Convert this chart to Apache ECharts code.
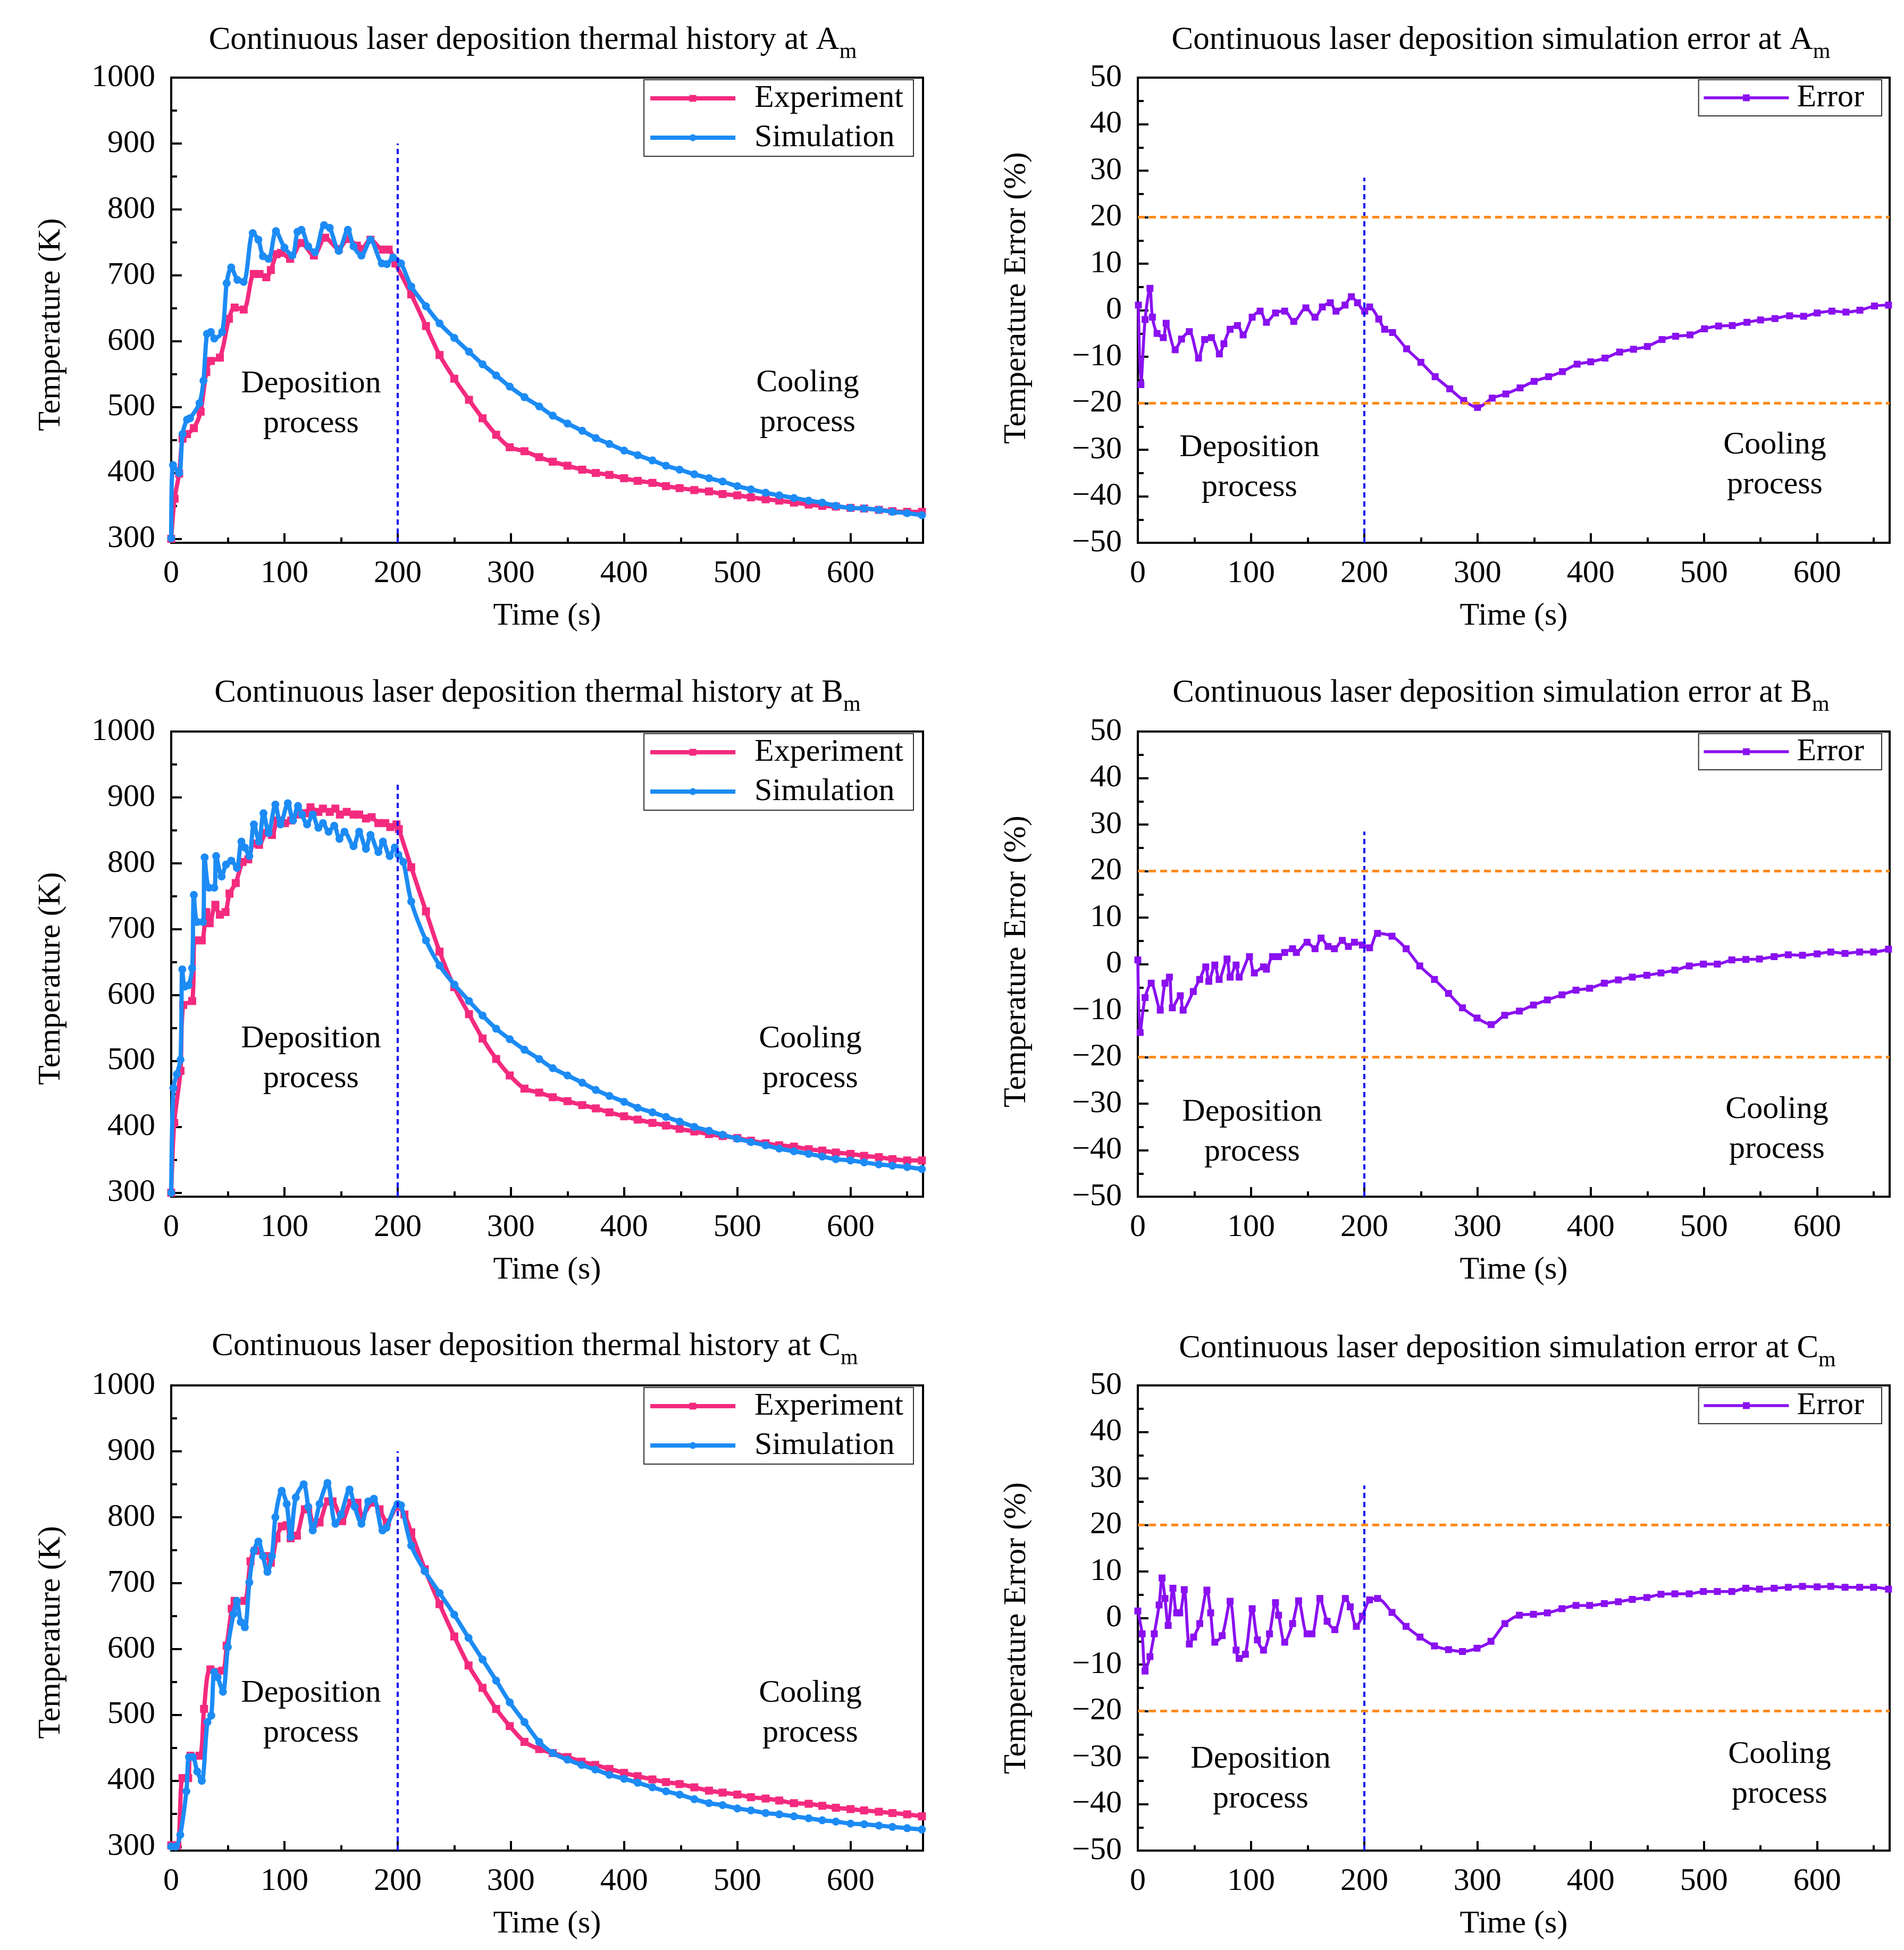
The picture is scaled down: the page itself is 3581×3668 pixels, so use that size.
<!DOCTYPE html>
<html><head><meta charset="utf-8">
<script src="https://cdn.jsdelivr.net/npm/echarts@6/dist/echarts.min.js"></script>
<style>html,body{margin:0;padding:0;background:#fff}#c{width:3581px;height:3668px}</style>
</head><body><div id="c"></div>
<script>
// ---------- tick labels ----------
const timeTicks = [0, 100, 200, 300, 400, 500, 600];
const timeMinorTicks = [50, 150, 250, 350, 450, 550, 650];
const tempTicks = [300, 400, 500, 600, 700, 800, 900, 1000];
const tempMinorTicks = [350, 450, 550, 650, 750, 850, 950];
const errTicks = [-50, -40, -30, -20, -10, 0, 10, 20, 30, 40, 50];
const errMinorTicks = [-45, -35, -25, -15, -5, 5, 15, 25, 35, 45];
const errLimits = [20, -20];
const depositionEnd = 200;

// ---------- titles ----------
const tempTitles = ['Continuous laser deposition thermal history at A', 'Continuous laser deposition thermal history at B', 'Continuous laser deposition thermal history at C'];
const errTitles = ['Continuous laser deposition simulation error at A', 'Continuous laser deposition simulation error at B', 'Continuous laser deposition simulation error at C'];

// ---------- data: [time (s), temperature (K)] ----------
const expA = [[0,300],[3,361],[7,399],[10,452],[14,459],[20,468],[26,493],[31,553],[35,570],[43,575],[51,634],[56,651],[64,648],[73,702],[78,702],[84,697],[88,708],[93,732],[97,734],[105,725],[115,749],[126,730],[136,757],[148,740],[156,755],[164,745],[168,740],[176,754],[187,739],[192,739],[198,718],[212,671],[225,623],[237,579],[250,543],[263,511],[275,483],[287,458],[299,439],[312,433],[325,424],[337,417],[350,411],[363,405],[375,400],[387,397],[400,392],[412,388],[425,385],[437,380],[449,377],[462,374],[475,372],[487,368],[500,366],[512,363],[525,360],[537,358],[550,355],[563,352],[575,350],[587,349],[600,347],[612,346],[625,344],[637,342],[650,341],[663,341]];
const simA = [[0,301],[1.6,412],[7,400],[10,459],[14,481],[16.6,483],[25,506],[28.5,540],[31.6,611],[35,614],[38,604],[45,614],[49,688],[53,712],[58.5,693],[64,690],[72,764],[77,754],[81,729],[86,725],[92.5,767],[100,742],[107,730],[111.5,766],[115,769],[121,744],[127,735],[135,776],[140,772],[148,737],[156,769],[161,744],[168,730],[176,754],[186,718],[190.5,717],[196,727],[203,718],[212,683],[225,653],[237,627],[250,605],[263,584],[275,565],[287,548],[299,531],[312,515],[325,501],[337,487],[350,475],[363,464],[375,453],[387,444],[400,434],[412,427],[425,419],[437,411],[449,405],[462,398],[475,392],[487,387],[500,380],[512,375],[525,370],[537,366],[550,362],[563,358],[575,355],[587,350],[600,347],[612,346],[625,344],[637,341],[650,339],[663,336]];
const expB = [[0,300],[2.7,406],[8.2,485],[10.6,585],[18.5,591],[21,683],[27,683],[31,726],[34,709],[39,737],[43,722],[48,726],[51.5,754],[57,770],[63,802],[68,806],[73,830],[77.6,828],[84,846],[89,843],[94,865],[100.5,861],[106,865],[112,874],[118.6,876],[123,885],[130,878],[134,883],[140,878],[145,883],[149,874],[155,878],[161,874],[166,874],[172,868],[177,870],[183,861],[189,861],[193.5,855],[199,859],[201,852],[212,794],[225,727],[237,666],[250,612],[263,571],[275,534],[287,503],[299,478],[312,458],[325,452],[337,445],[350,439],[363,433],[375,428],[387,422],[400,416],[412,411],[425,406],[437,402],[449,397],[462,393],[475,389],[487,386],[500,383],[512,379],[525,375],[537,372],[550,370],[563,366],[575,364],[587,361],[600,359],[612,356],[625,354],[637,351],[650,349],[663,349]];
const simB = [[0,300],[1.9,459],[5,480],[8.2,502],[9.8,639],[12,613],[15.3,615],[18.5,641],[20,752],[23,711],[28,711],[29.5,809],[33.4,763],[38,763],[39.7,811],[44.5,780],[48.4,798],[53,804],[58,793],[62,833],[65,824],[69,811],[73,859],[77.6,833],[81.5,876],[86,846],[92,889],[96.5,859],[103,891],[107.6,865],[112,887],[115.5,874],[120,859],[125,874],[130,854],[134,861],[139,848],[144,857],[148.6,837],[153,848],[161,826],[166,848],[172,822],[176,843],[183,817],[187,833],[193,811],[197.5,824],[200.6,813],[205,802],[212,742],[225,683],[237,645],[250,616],[263,591],[275,569],[287,549],[299,533],[312,517],[325,503],[337,489],[350,478],[363,467],[375,456],[387,447],[400,438],[412,429],[425,422],[437,415],[449,408],[462,400],[475,394],[487,388],[500,382],[512,377],[525,372],[537,367],[550,363],[563,359],[575,355],[587,351],[600,349],[612,346],[625,343],[637,341],[650,339],[663,336]];
const expC = [[0,302],[5.5,302],[10,404],[15,404],[17,438],[25,438],[29,509],[34.6,569],[45,567],[49,605],[53.5,661],[56,673],[64.6,673],[70,733],[74,749],[84,741],[88,731],[93,768],[97.6,786],[102,788],[105.5,768],[111,772],[118,812],[121,812],[126,790],[131,792],[138.6,824],[142.5,824],[151,794],[159,822],[164.5,822],[168.5,802],[178,822],[184,812],[190.5,792],[200,816],[206,804],[212,777],[224,721],[237,668],[250,619],[262.6,575],[275,541],[287,509],[299,483],[312,459],[325,448],[337,442],[350,436],[362.5,429],[374.5,424],[387,418],[400,412],[412,407],[425,402],[437,398],[449,395],[462,390],[475,385],[487,382],[500,379],[512,375],[525,373],[537,370],[550,366],[563,365],[575,362],[587,359],[600,357],[612,355],[625,353],[637,351],[650,349],[663,346]];
const simC = [[0,300],[4,300],[8,318],[13.4,384],[15.7,436],[19,436],[23,414],[27,400],[32,489],[35.4,499],[38,565],[41,557],[45.7,535],[50,603],[55,653],[58,673],[61.4,641],[65,633],[69,701],[73,749],[77,763],[81,741],[85,717],[89,741],[92,800],[97.6,840],[102,820],[105.5,770],[110,830],[117,850],[121,816],[125,780],[131,820],[138,852],[145,790],[150,804],[157.5,842],[162,816],[168,790],[174,824],[179,828],[186.6,780],[190,784],[200,820],[203,818],[212,757],[224,718],[237,685],[250,652],[262.6,617],[275,584],[287,552],[299,519],[312,489],[325,459],[337,442],[350,432],[362.5,424],[374.5,417],[387,409],[400,403],[412,397],[425,390],[437,384],[449,379],[462,372],[475,366],[487,363],[500,358],[512,355],[525,351],[537,349],[550,346],[563,343],[575,340],[587,338],[600,335],[612,334],[625,332],[637,330],[650,328],[663,326]];

// ---------- data: [time (s), error (%)] ----------
const errA = [[0.5,1.1],[2.7,-16],[6.4,-2],[10.7,4.7],[12.9,-1.5],[17,-5],[22.5,-5.9],[25,-2.8],[33,-8.5],[38.6,-6.2],[45.5,-4.6],[53.6,-10.3],[59,-6.3],[65,-5.9],[72,-9.4],[76,-7.2],[81.5,-4.1],[88,-3.3],[93,-5.3],[101,-1.5],[108,-0.2],[113.6,-2.6],[121.6,-0.6],[129.7,-0.2],[137.7,-2.4],[148.4,0.5],[156.5,-1.5],[163,0.7],[170,1.6],[175,-0.2],[183,1.1],[188.6,2.9],[194,1.6],[200.4,-0.2],[204.7,0.7],[212.8,-1.9],[218,-4.1],[225,-4.8],[237.4,-8.3],[250,-11.2],[262.6,-14.3],[275.5,-16.9],[287.8,-19.4],[300,-20.9],[313,-18.9],[325,-18],[337.6,-16.7],[350,-15.3],[362.8,-14.3],[375,-13.2],[388,-11.6],[400,-11.1],[412.6,-10.3],[425.5,-9],[437.8,-8.4],[450,-7.8],[463,-6.3],[475,-5.6],[487.7,-5.3],[500.5,-4],[512.9,-3.4],[525,-3.3],[538,-2.6],[550,-2.1],[562.7,-1.8],[575.6,-1.2],[588,-1.3],[600,-0.6],[613,-0.2],[625.4,-0.4],[637.7,0],[650.6,0.9],[663,1.1]];
const errB = [[0,0.9],[2,-14.7],[6.4,-7.2],[11.8,-4.1],[19.8,-9.9],[24,-4.1],[27.9,-2.8],[30.5,-9.4],[37.5,-6.8],[40,-9.9],[49,-5.9],[54.6,-3.3],[60,-0.6],[62.7,-3.7],[68,-0.2],[71.8,-3.3],[78.8,1.1],[81.5,-2.8],[86.8,-0.2],[89.5,-2.8],[98.6,1.6],[102.9,-1.9],[111,-0.6],[113.6,-1.1],[119,1.6],[124.3,1.6],[129.7,2.5],[136.7,3.3],[140,2.5],[149.5,4.7],[156.5,3.3],[161.8,5.6],[168,3.8],[173.6,3.3],[180.6,5.1],[186,3.8],[191.3,4.7],[198.3,4.1],[204.7,3.5],[211.7,6.6],[224.5,6],[237,3.3],[249,-0.4],[262,-3.3],[274.4,-6.3],[286.7,-9.4],[299.6,-11.6],[312,-13],[324,-11],[337,-10.1],[349.4,-8.8],[361.7,-7.7],[374.6,-6.6],[387,-5.6],[399,-5.2],[412,-4.1],[424.4,-3.4],[436.7,-2.8],[449.6,-2.4],[462,-1.9],[474.3,-1.3],[487,-0.4],[499.5,0],[511.8,0],[524.6,0.9],[537,1],[549,1.1],[562,1.6],[574.5,2],[587,1.9],[600,2.2],[612,2.6],[624.6,2.3],[637.5,2.6],[649.8,2.6],[663,3.2]];
const errC = [[0,1.5],[3.8,-3.4],[6.4,-11.4],[10.7,-8.3],[14.5,-3.4],[18.8,2.8],[21.4,8.6],[24,4.2],[26.8,-1.6],[31,6.4],[34.3,1.1],[37,1.1],[41,6.1],[45.5,-5.6],[49.3,-4.1],[54.7,-1.2],[61,6],[64.3,1.1],[68,-5.2],[74.5,-3.8],[81.5,3.6],[86.8,-6.9],[89.5,-8.7],[95,-7.8],[101,2],[105.6,-4.7],[111,-6.9],[116.3,-3.4],[121.6,3.3],[124.3,0.6],[129.7,-5.2],[136.7,-1.2],[142,3.7],[149.5,-3.4],[153.8,-3.4],[160.8,4.2],[167.2,-0.7],[174,-2.5],[183.3,4.2],[187.6,2.4],[193,-1.8],[198.3,0.4],[204.7,3.9],[211.7,4.2],[224.5,1.2],[236.9,-1.8],[249.2,-4.1],[262,-6],[274.4,-6.8],[286.7,-7.2],[299.6,-6.5],[311.9,-5],[324.2,-1.2],[337,0.6],[349.4,0.8],[361.7,1.1],[374.6,2],[387,2.7],[399,2.7],[412,3.1],[424.4,3.5],[436.7,4],[449.6,4.4],[462,5.1],[474.3,5.2],[487,5.2],[499.5,5.7],[511.8,5.7],[524.6,5.7],[537,6.4],[549,6.2],[562,6.4],[574.5,6.6],[587,6.8],[600,6.7],[612,6.8],[624.6,6.6],[637.5,6.6],[649.8,6.6],[663,6.2]];

// ---------- styling / layout ----------
const FONT = 'Liberation Serif';
const C_EXP = '#F42A7E', C_SIM = '#1C8BF5', C_ERR = '#8A10F0', C_LIM = '#FF8A1A', C_DIV = '#1010F0';
const W = 1414, H = 875;
const panels = [
  {kind:'temp', left:322, top:146, series:[['Experiment', expA], ['Simulation', simA]], divTop:900, title:tempTitles[0], tc:[1002,82], ann:[[585,760],[1519,758]], nameShift:27},
  {kind:'err', left:2140, top:146, series:[['Error', errA]], divTop:28.5, title:errTitles[0], tc:[2823,82], ann:[[2350,880],[3338,875]], nameShift:-23},
  {kind:'temp', left:322, top:1376, series:[['Experiment', expB], ['Simulation', simB]], divTop:920, title:tempTitles[1], tc:[1011,1310], ann:[[585,1992],[1524,1992]], nameShift:27},
  {kind:'err', left:2140, top:1376, series:[['Error', errB]], divTop:28.5, title:errTitles[1], tc:[2823,1310], ann:[[2355,2130],[3342,2125]], nameShift:-5},
  {kind:'temp', left:322, top:2606, series:[['Experiment', expC], ['Simulation', simC]], divTop:900, title:tempTitles[2], tc:[1006,2539], ann:[[585,3223],[1524,3223]], nameShift:27},
  {kind:'err', left:2140, top:2606, series:[['Error', errC]], divTop:28.5, title:errTitles[2], tc:[2835,2543], ann:[[2371,3347],[3347,3338]], nameShift:19}
];

const minusFmt = v => String(v).replace('-', '\u2212');
const serif = {fontFamily: FONT, fontSize: 60, color: '#000'};

const grid = [], xAxis = [], yAxis = [], series = [], legend = [], graphic = [];
panels.forEach((p, i) => {
  const isTemp = p.kind === 'temp';
  const yMin = isTemp ? 294 : -50, yMax = isTemp ? 1000 : 50;
  const yT = isTemp ? tempTicks : errTicks, yMinor = isTemp ? tempMinorTicks : errMinorTicks;
  const sh = p.nameShift;
  grid.push({left: p.left, top: p.top, width: W, height: H, show: true, borderColor: '#000', borderWidth: 4, backgroundColor: 'transparent'});
  xAxis.push({gridIndex: i, type: 'value', min: 0, max: 664, position: 'bottom',
    axisLine: {show: true, onZero: false, lineStyle: {color: '#000', width: 4}},
    axisTick: {show: true, inside: true, length: 18, customValues: timeTicks, lineStyle: {color: '#000', width: 4}},
    axisLabel: {show: true, customValues: timeTicks, margin: 28, ...serif},
    splitLine: {show: false},
    name: 'Time (s)', nameLocation: 'middle', nameGap: 108, nameTextStyle: {...serif}});
  xAxis.push({gridIndex: i, type: 'value', min: 0, max: 664, position: 'top', offset: -H,
    axisLine: {show: false, onZero: false},
    axisTick: {show: true, inside: false, length: 10, customValues: timeMinorTicks, lineStyle: {color: '#000', width: 4}},
    axisLabel: {show: false}, splitLine: {show: false}});
  yAxis.push({gridIndex: i, type: 'value', min: yMin, max: yMax, position: 'left',
    axisLine: {show: true, onZero: false, lineStyle: {color: '#000', width: 4}},
    axisTick: {show: true, inside: true, length: 20, customValues: yT, lineStyle: {color: '#000', width: 4}},
    axisLabel: {show: true, customValues: yT, margin: 30, formatter: minusFmt, ...serif},
    splitLine: {show: false},
    name: isTemp ? 'Temperature (K)' : 'Temperature Error (%)', nameLocation: 'middle', nameRotate: 90,
    nameGap: isTemp ? 196 : 198,
    nameTextStyle: {...serif, padding: sh > 0 ? [0, 2 * sh, 0, 0] : [0, 0, 0, -2 * sh]}});
  yAxis.push({gridIndex: i, type: 'value', min: yMin, max: yMax, position: 'right', offset: -W,
    axisLine: {show: false, onZero: false},
    axisTick: {show: true, inside: false, length: 11, customValues: yMinor, lineStyle: {color: '#000', width: 4}},
    axisLabel: {show: false}, splitLine: {show: false}});

  p.series.forEach(([name, data], k) => {
    const color = isTemp ? (k === 0 ? C_EXP : C_SIM) : C_ERR;
    const lw = isTemp ? 8 : 5.5;
    const s = {type: 'line', name, data, xAxisIndex: 2 * i, yAxisIndex: 2 * i,
      smooth: 0.3, showSymbol: true, symbol: (isTemp && k === 1) ? 'circle' : 'rect',
      symbolSize: isTemp ? 15 : 13, color,
      lineStyle: {color, width: lw}, itemStyle: {color},
      z: 3 + k, animation: false, clip: true};
    if (k === 0) {
      const mlData = [[{coord: [depositionEnd, yMin], lineStyle: {color: C_DIV, width: 4, type: [10, 7]}}, {coord: [depositionEnd, p.divTop]}]];
      if (!isTemp) errLimits.forEach(v => mlData.push({yAxis: v, lineStyle: {color: C_LIM, width: 5, type: [13, 8]}}));
      s.markLine = {silent: true, symbol: ['none', 'none'], label: {show: false}, animation: false, data: mlData};
    }
    series.push(s);
  });

  legend.push(isTemp ? {
    orient: 'vertical', right: 3581 - (p.left + W - 18), top: p.top + 4, align: 'left',
    data: ['Experiment', 'Simulation'], selectedMode: false,
    itemWidth: 160, itemHeight: 16, itemGap: 8, padding: [2, 19, 2, 8],
    borderColor: '#333', borderWidth: 2, backgroundColor: '#fff',
    lineStyle: {width: 8},
    textStyle: {...serif, lineHeight: 66, padding: [0, 0, 0, 31]}
  } : {
    orient: 'vertical', right: 3581 - (p.left + W - 15), top: p.top + 4, align: 'left',
    data: ['Error'], selectedMode: false,
    itemWidth: 160, itemHeight: 16, itemGap: 8, padding: [2, 33, 2, 7],
    borderColor: '#333', borderWidth: 2, backgroundColor: '#fff',
    lineStyle: {width: 5.5},
    textStyle: {...serif, lineHeight: 64, padding: [0, 0, 0, 10]}
  });

  graphic.push({type: 'text', x: p.tc[0], y: p.tc[1], z: 10, style: {
    text: '{t|' + p.title + '}{s|m}', align: 'center', verticalAlign: 'middle',
    rich: {t: {fontFamily: FONT, fontSize: 61, fill: '#000', verticalAlign: 'bottom', padding: [0, 0, 12, 0]},
           s: {fontFamily: FONT, fontSize: 42, fill: '#000', verticalAlign: 'bottom'}}}});
  graphic.push({type: 'text', x: p.ann[0][0], y: p.ann[0][1], z: 10, style: {
    text: 'Deposition\nprocess', align: 'center', verticalAlign: 'middle', lineHeight: 75,
    fontFamily: FONT, fontSize: 60, fill: '#000'}});
  graphic.push({type: 'text', x: p.ann[1][0], y: p.ann[1][1], z: 10, style: {
    text: 'Cooling\nprocess', align: 'center', verticalAlign: 'middle', lineHeight: 75,
    fontFamily: FONT, fontSize: 60, fill: '#000'}});
});

const chart = echarts.init(document.getElementById('c'), null, {renderer: 'canvas'});
chart.setOption({backgroundColor: '#fff', animation: false, textStyle: {fontFamily: FONT},
  grid, xAxis, yAxis, series, legend, graphic});
</script></body></html>
